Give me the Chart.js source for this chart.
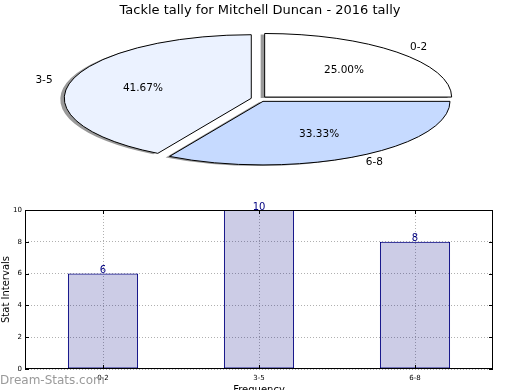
<!DOCTYPE html>
<html>
<head>
<meta charset="utf-8">
<script src="https://cdn.jsdelivr.net/npm/chart.js@4.4.0/dist/chart.umd.min.js"></script>
<style>
  html, body { margin: 0; padding: 0; background: #fff; overflow: hidden; width: 520px; height: 390px; }
  #pieChart { position: absolute; left: 0; top: 0; }
  #barChart { position: absolute; left: 0; top: 195px; }
  #mark { position: absolute; left: 0; top: 373px; font: 12px "DejaVu Sans", sans-serif; color: #9a9a9a; }
</style>
</head>
<body>
<canvas id="pieChart" width="520" height="420"></canvas>
<canvas id="barChart" width="520" height="205"></canvas>
<div id="mark">Dream-Stats.com</div>
<script>
// chart data
const categories = ["0-2", "3-5", "6-8"];
const counts = [6, 10, 8];
const sliceColors = ["#ffffff", "#ebf2ff", "#c6daff"];
const yTicks = [0, 2, 4, 6, 8, 10];
const chartTitle = "Tackle tally for Mitchell Duncan - 2016 tally";

// pie goes counter-clockwise from 3 o'clock, chart.js draws clockwise -> reverse
const pieLabels = categories.slice().reverse();
const pieValues = counts.slice().reverse();
const pieColors = sliceColors.slice().reverse();

Chart.defaults.font.family = '"DejaVu Sans", sans-serif';

const PIE_K = 0.34;    // vertical squash
const PIE_CY = 99;     // center of the squashed pie on screen
const PIE_OFF = 32;    // chart.js arc offset (moves by offset/4)

// chart.js grows exploded arcs a bit, this keeps all slices the same radius
function arcGrow(arc) {
  return (PIE_OFF / 4) * (1 - Math.sin(Math.min(Math.PI, arc.circumference)));
}

const squashPie = {
  id: "squashPie",
  beforeDatasetsDraw(chart) {
    const ctx = chart.ctx, a = chart.chartArea;
    const cx = (a.left + a.right) / 2, cy = (a.top + a.bottom) / 2;
    chart.getDatasetMeta(0).data.forEach(arc => {
      arc.baseR = arc.outerRadius;
      arc.outerRadius = arc.baseR - arcGrow(arc);
    });
    ctx.save();
    ctx.translate(cx, PIE_CY);
    ctx.scale(1, PIE_K);
    ctx.translate(-cx, -cy);
    ctx.shadowColor = "rgba(0,0,0,0.4)";
    ctx.shadowOffsetX = -4;
    ctx.shadowOffsetY = 1;
  },
  afterDatasetsDraw(chart) {
    const ctx = chart.ctx;
    ctx.restore();
    const arcs = chart.getDatasetMeta(0).data;
    const total = pieValues.reduce((s, v) => s + v, 0);
    const off = PIE_OFF / 4;
    ctx.save();
    arcs.forEach((arc, i) => {
      arc.outerRadius = arc.baseR;
      const R = arc.outerRadius;
      const mid = (arc.startAngle + arc.endAngle) / 2;
      const ox = arc.x + Math.cos(mid) * off;
      const oy = PIE_CY + Math.sin(mid) * off * PIE_K;
      ctx.beginPath();
      ctx.moveTo(ox, oy);
      ctx.ellipse(ox, oy, R, R * PIE_K, 0, arc.startAngle, arc.endAngle);
      ctx.closePath();
      ctx.lineWidth = 1;
      ctx.strokeStyle = "#000";
      ctx.stroke();

      ctx.fillStyle = "#000";
      ctx.font = '10.5px "DejaVu Sans"';
      ctx.textBaseline = "middle";
      ctx.textAlign = "center";
      const pct = (pieValues[i] / total * 100).toFixed(2) + "%";
      ctx.fillText(pct, ox + Math.cos(mid) * R * 0.6, oy + Math.sin(mid) * R * 0.6 * PIE_K);
      ctx.textAlign = Math.cos(mid) >= 0 ? "left" : "right";
      ctx.fillText(pieLabels[i], ox + Math.cos(mid) * R * 1.1, oy + Math.sin(mid) * R * 1.1 * PIE_K);
    });
    ctx.font = '13px "DejaVu Sans"';
    ctx.textAlign = "center";
    ctx.textBaseline = "middle";
    ctx.fillText(chartTitle, 260, 11);
    ctx.restore();
  }
};

new Chart(document.getElementById("pieChart"), {
  type: "pie",
  data: {
    labels: pieLabels,
    datasets: [{
      data: pieValues,
      backgroundColor: pieColors,
      borderWidth: 0,
      offset: PIE_OFF,
      clip: false
    }]
  },
  options: {
    responsive: false,
    animation: false,
    events: [],
    rotation: 90,
    layout: { padding: { top: 7, bottom: 7, left: 0, right: 2 } },
    plugins: { legend: { display: false }, tooltip: { enabled: false } }
  },
  plugins: [squashPie]
});

const barExtras = {
  id: "barExtras",
  afterDatasetsDraw(chart) {
    const ctx = chart.ctx, a = chart.chartArea;
    const xs = chart.scales.x, ys = chart.scales.y;
    ctx.save();
    ctx.strokeStyle = "#000";
    ctx.lineWidth = 1;
    ctx.strokeRect(Math.round(a.left) + 0.5, Math.round(a.top) + 0.5,
      Math.round(a.right - a.left) - 1, Math.round(a.bottom - a.top) - 1);
    // inside tick marks
    ctx.beginPath();
    yTicks.forEach(v => {
      const y = Math.round(ys.getPixelForValue(v)) + 0.5;
      ctx.moveTo(a.left, y); ctx.lineTo(a.left + 4, y);
      ctx.moveTo(a.right, y); ctx.lineTo(a.right - 4, y);
    });
    categories.forEach((c, i) => {
      const x = Math.round(xs.getPixelForValue(i)) + 0.5;
      ctx.moveTo(x, a.bottom); ctx.lineTo(x, a.bottom - 4);
      ctx.moveTo(x, a.top); ctx.lineTo(x, a.top + 4);
    });
    ctx.stroke();
    // values above bars
    ctx.fillStyle = "#000080";
    ctx.font = '10px "DejaVu Sans"';
    ctx.textAlign = "center";
    ctx.textBaseline = "bottom";
    chart.getDatasetMeta(0).data.forEach((bar, i) => {
      ctx.fillText(String(counts[i]), bar.x, bar.y + 2);
    });
    ctx.restore();
  }
};

new Chart(document.getElementById("barChart"), {
  type: "bar",
  data: {
    labels: categories,
    datasets: [{
      data: counts,
      backgroundColor: "rgba(0,0,128,0.2)",
      borderColor: "#000080",
      borderWidth: 1,
      borderSkipped: false,
      barPercentage: 0.45,
      categoryPercentage: 1
    }]
  },
  options: {
    responsive: false,
    animation: false,
    events: [],
    layout: { padding: { top: 15, right: 27, left: 0, bottom: 0 } },
    plugins: { legend: { display: false }, tooltip: { enabled: false } },
    scales: {
      x: {
        grid: { offset: false, color: "#b0b0b0", drawTicks: false },
        border: { display: false, dash: [1, 2] },
        ticks: { font: { size: 7 }, color: "#000", padding: 5 },
        title: { display: true, text: "Frequency", font: { size: 10 }, color: "#000", padding: { top: 4, bottom: 4 } },
        afterFit: s => { s.height = 31; }
      },
      y: {
        min: yTicks[0],
        max: yTicks[yTicks.length - 1],
        grid: { color: "#b0b0b0", drawTicks: false },
        border: { display: false, dash: [1, 2] },
        ticks: { stepSize: yTicks[1] - yTicks[0], font: { size: 7 }, color: "#000", padding: 3 },
        title: { display: true, text: "Stat Intervals", font: { size: 10 }, color: "#000", padding: { top: 0, bottom: 0 } },
        afterFit: s => { s.width = 25; }
      }
    }
  },
  plugins: [barExtras]
});
</script>
</body>
</html>
